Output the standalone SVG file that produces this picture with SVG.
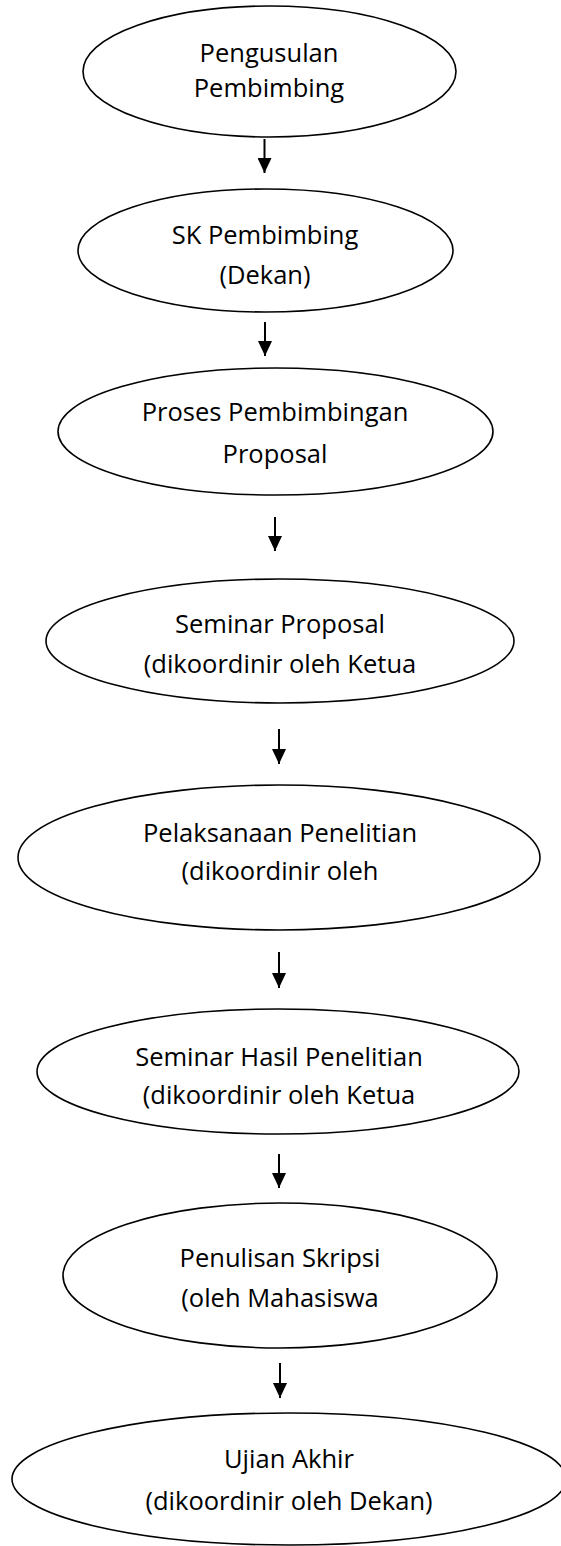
<svg xmlns="http://www.w3.org/2000/svg" width="561" height="1546" viewBox="0 0 561 1546">
<style>
.node ellipse{fill:#fff;stroke:#000;stroke-width:1.6}
.node text{font-family:"Open Sans","Noto Sans","Liberation Sans",sans-serif;font-size:25.5px;fill:#000;text-anchor:middle}
.conn line{stroke:#000;stroke-width:2;marker-end:url(#ah)}
</style>
<defs>
<marker id="ah" viewBox="0 0 15 14" refX="15" refY="7" markerWidth="15" markerHeight="14" markerUnits="userSpaceOnUse" orient="auto">
<path d="M0,0 L15,7 L0,14 z" fill="#000"/>
</marker>
</defs>
<rect width="561" height="1546" fill="#fff"/>
<g id="connectors" class="conn">
<line x1="264.5" y1="139" x2="264.5" y2="173"/>
<line x1="265" y1="322" x2="265" y2="356"/>
<line x1="275" y1="517" x2="275" y2="551"/>
<line x1="279" y1="729" x2="279" y2="764"/>
<line x1="279" y1="952" x2="279" y2="988"/>
<line x1="279" y1="1154" x2="279" y2="1188"/>
<line x1="280" y1="1363" x2="280" y2="1398"/>
</g>
<g id="n1" class="node">
<ellipse cx="269.5" cy="71.5" rx="186.5" ry="65.5"/>
<text x="269" y="62">Pengusulan</text>
<text x="269" y="97">Pembimbing</text>
</g>
<g id="n2" class="node">
<ellipse cx="265.5" cy="250.5" rx="187.5" ry="61.5"/>
<text x="265" y="244">SK Pembimbing</text>
<text x="265" y="284">(Dekan)</text>
</g>
<g id="n3" class="node">
<ellipse cx="275.5" cy="431.5" rx="217.5" ry="63.5"/>
<text x="275" y="421">Proses Pembimbingan</text>
<text x="275" y="463">Proposal</text>
</g>
<g id="n4" class="node">
<ellipse cx="280" cy="641" rx="234" ry="62"/>
<text x="280" y="633">Seminar Proposal</text>
<text x="280" y="673">(dikoordinir oleh Ketua</text>
</g>
<g id="n5" class="node">
<ellipse cx="279" cy="857.5" rx="261" ry="72.5"/>
<text x="280" y="842">Pelaksanaan Penelitian</text>
<text x="280" y="880">(dikoordinir oleh</text>
</g>
<g id="n6" class="node">
<ellipse cx="278" cy="1071.5" rx="241" ry="62.5"/>
<text x="279" y="1066">Seminar Hasil Penelitian</text>
<text x="279" y="1104">(dikoordinir oleh Ketua</text>
</g>
<g id="n7" class="node">
<ellipse cx="280" cy="1275.5" rx="217" ry="72.5"/>
<text x="280" y="1267">Penulisan Skripsi</text>
<text x="280" y="1307">(oleh Mahasiswa</text>
</g>
<g id="n8" class="node">
<ellipse cx="289" cy="1479" rx="277" ry="66"/>
<text x="289" y="1468">Ujian Akhir</text>
<text x="289" y="1510">(dikoordinir oleh Dekan)</text>
</g>
</svg>
